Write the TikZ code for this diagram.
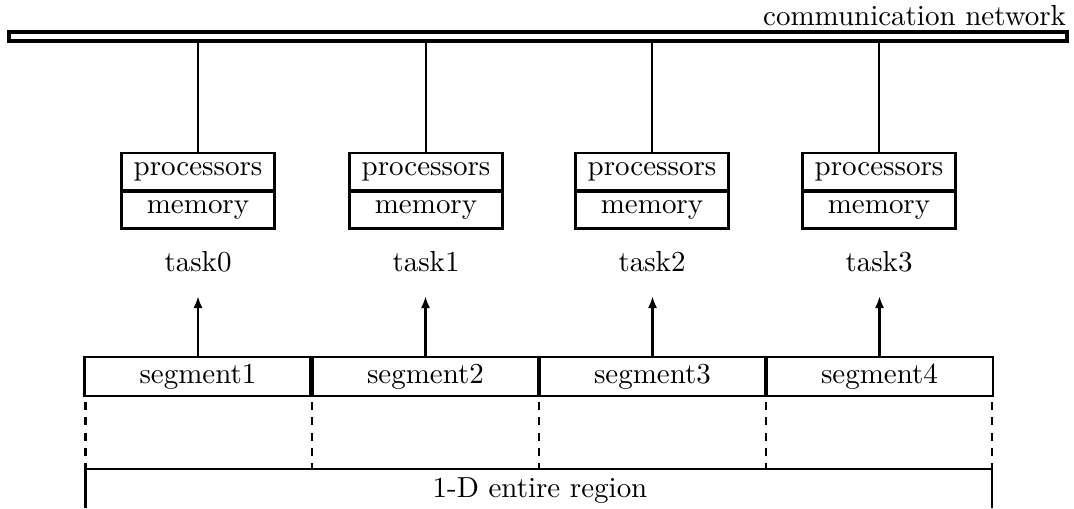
\documentclass[tikz,border=0pt]{standalone}
\usetikzlibrary{arrows.meta}
\begin{document}
\begin{tikzpicture}[x=0.345pt,y=-0.345pt,
  every node/.style={inner sep=0pt,outer sep=0pt},
  unit/.style={draw,line width=0.8pt,minimum width=52.8pt,minimum height=13.1pt},
  segbox/.style={draw,line width=0.8pt,minimum width=78.3pt,minimum height=13.5pt},
  wire/.style={line width=0.8pt},
  sep/.style={line width=1.5pt},
  cut/.style={line width=0.7pt,dash pattern=on 2.8pt off 2.5pt},
  up/.style={line width=0.8pt,-{Latex[length=4.2pt,width=3.2pt]}}]
\useasboundingbox (0,0) rectangle (1074,508);
% network
\node[draw,line width=1.1pt,minimum width=365pt,minimum height=3.1pt] (net) at (538,36.5) {};
\node[anchor=base east] (netlabel) at (1066,25) {communication network};
% tasks
\foreach \i/\x in {0/198,1/426,2/652,3/879}{
  \node[unit] (p\i) at (\x,172) {processors};
  \node[unit] (m\i) at (\x,209.5) {memory};
  \draw[line width=1.3pt] (p\i.south west) -- (p\i.south east);
  \node (t\i) at (\x,262) {task\i};
  \draw[wire] (p\i.north) -- (p\i.north |- net.south);
  \coordinate (tip\i) at (\x,296);
}
% segments
\foreach \i/\x in {1/198,2/425.5,3/652.5,4/879.5}{
  \node[segbox] (s\i) at (\x,376.5) {segment\i};
}
\draw[up] (s1.north) -- (s1.north |- tip0);
\draw[up] (s2.north) -- (s2.north |- tip1);
\draw[up] (s3.north) -- (s3.north |- tip2);
\draw[up] (s4.north) -- (s4.north |- tip3);
\draw[sep] (s1.north east) -- (s1.south east);
\draw[sep] (s2.north east) -- (s2.south east);
\draw[sep] (s3.north east) -- (s3.south east);
% region
\coordinate (rl) at (85.5,469);
\coordinate (rr) at (992,469);
\coordinate (rlb) at (85.5,508);
\coordinate (rrb) at (992,508);
\draw[wire] (rlb) -- (rl) -- (rr) -- (rrb);
\foreach \k/\x in {0/85.5,1/312,2/539,3/766,4/992}{
  \coordinate (d\k) at (\x,402);
  \draw[cut] (d\k) -- (d\k |- rl);
}
\node (rlabel) at (540,491) {1-D entire region};
\end{tikzpicture}
\end{document}
